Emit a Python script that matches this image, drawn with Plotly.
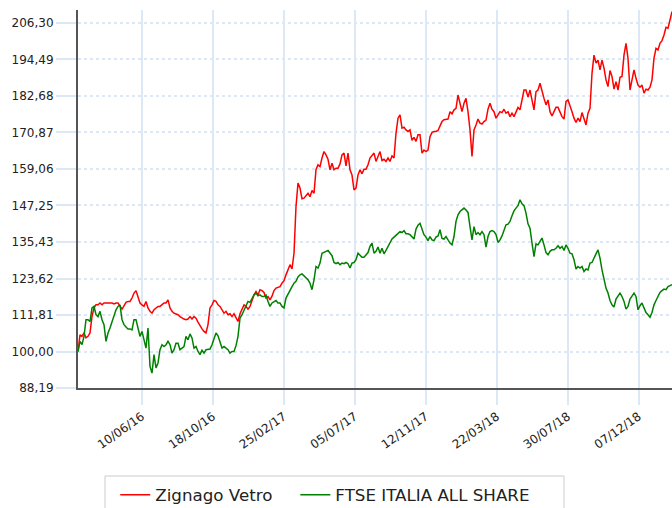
import pandas as pd
import plotly.graph_objects as go

# ---- data ----
start_date = "2016-02-14"
end_date = "2019-02-06"

zignago_vetro = [
    100.0, 105.4, 104.9, 106.0, 104.4, 104.9, 106.0, 111.3, 114.1, 115.1,
    115.1, 115.7, 115.1, 115.7, 115.7, 115.7, 115.9, 115.7, 115.4, 115.7,
    115.7, 114.8, 113.7, 114.8, 115.9, 116.2, 116.2, 117.3, 118.9, 119.7,
    117.3, 115.7, 115.1, 114.6, 116.2, 114.1, 113.0, 112.4, 113.5, 114.1,
    114.6, 114.6, 115.1, 115.7, 115.7, 116.7, 114.1, 113.0, 112.4, 112.2,
    111.9, 111.3, 110.8, 110.5, 110.3, 110.5, 111.3, 110.5, 111.3, 110.8,
    109.5, 108.3, 107.3, 106.5, 106.0, 108.7, 114.1, 115.1, 116.5, 116.2,
    115.1, 114.6, 113.5, 112.4, 113.0, 111.9, 112.2, 111.3, 112.2, 110.8,
    109.7, 112.2, 113.7, 115.1, 114.6, 113.7, 114.6, 116.7, 118.3, 119.4,
    118.3, 120.0, 119.7, 119.1, 117.3, 117.8, 116.7, 117.9, 119.7, 120.5,
    120.8, 121.0, 122.1, 122.9, 124.8, 126.2, 128.1, 126.7, 131.8, 146.9,
    154.5, 152.9, 149.4, 149.6, 150.4, 151.2, 150.1, 152.1, 151.2, 158.8,
    160.4, 159.8, 162.6, 164.7, 163.6, 162.2, 158.8, 160.9, 158.8, 159.3,
    159.3, 160.7, 163.6, 164.2, 160.1, 164.2, 158.8, 157.1, 152.3, 152.9,
    157.1, 158.8, 157.5, 159.0, 159.0, 160.4, 162.6, 163.6, 164.2, 161.5,
    163.3, 164.7, 161.8, 162.2, 161.5, 162.6, 161.5, 163.3, 162.6, 170.6,
    175.5, 176.6, 172.3, 172.6, 171.7, 171.2, 171.7, 168.3, 169.3, 168.0,
    170.1, 170.1, 164.2, 165.2, 164.7, 165.2, 169.5, 170.9, 171.2, 171.2,
    171.5, 172.8, 174.4, 175.0, 175.2, 175.2, 177.6, 176.9, 178.2, 178.7,
    183.0, 179.8, 177.6, 180.3, 181.9, 177.6, 171.7, 163.1, 171.7, 173.3,
    175.2, 173.9, 173.6, 174.4, 174.9, 178.4, 180.3, 178.4, 177.6, 175.5,
    176.6, 177.6, 177.3, 178.4, 177.1, 177.6, 176.0, 177.1, 176.0, 177.3,
    179.0, 178.2, 180.9, 184.6, 184.6, 182.3, 184.6, 181.9, 178.2, 184.1,
    184.6, 186.8, 184.1, 181.9, 179.8, 181.4, 177.6, 176.2, 177.6, 179.0,
    179.0, 177.6, 176.0, 175.2, 180.9, 181.4, 179.8, 177.6, 175.5, 174.1,
    175.5, 174.4, 177.3, 175.5, 173.3, 177.1, 178.7, 190.0, 195.9, 193.3,
    194.3, 191.1, 194.3, 191.7, 187.9, 185.7, 190.9, 189.0, 184.9, 187.3,
    184.6, 188.7, 189.0, 195.9, 199.7, 194.9, 184.6, 187.9, 191.1, 188.4,
    186.2, 185.5, 186.2, 183.6, 184.9, 184.6, 185.5, 187.9, 194.9, 198.1,
    197.6, 199.7, 200.6, 202.4, 204.9, 204.6, 207.5, 210.0,
]

ftse_italia_all_share = [
    100.0, 103.3, 102.2, 104.9, 110.3, 110.3, 109.7, 114.1, 114.6, 111.9,
    111.3, 113.0, 110.3, 108.7, 103.3, 106.0, 107.6, 109.7, 111.3, 113.5,
    114.6, 115.1, 110.3, 108.7, 107.9, 107.3, 107.3, 107.0, 110.3, 110.3,
    107.6, 104.9, 106.5, 103.8, 101.1, 107.6, 95.2, 93.0, 99.0, 94.7,
    96.3, 100.6, 102.2, 101.6, 102.2, 103.3, 102.2, 99.5, 100.6, 102.7,
    102.7, 100.6, 101.1, 101.6, 104.9, 103.8, 105.7, 104.4, 101.1, 101.6,
    100.0, 99.0, 100.4, 99.5, 100.6, 100.6, 100.8, 102.2, 104.4, 106.0,
    105.1, 103.3, 101.1, 101.6, 101.1, 100.6, 99.5, 100.0, 100.0, 101.9,
    104.9, 110.8, 111.9, 113.5, 114.6, 116.2, 115.9, 117.3, 118.3, 118.9,
    118.0, 118.3, 117.8, 117.8, 118.3, 116.2, 114.6, 115.7, 116.2, 116.5,
    115.7, 115.7, 114.6, 114.1, 117.3, 118.7, 120.0, 121.0, 122.1, 122.7,
    124.1, 124.8, 125.1, 124.5, 124.1, 123.2, 122.1, 120.0, 123.2, 127.5,
    127.0, 128.6, 131.8, 132.2, 132.4, 132.7, 131.8, 131.0, 128.8, 128.4,
    128.8, 128.1, 128.6, 128.4, 128.8, 128.4, 127.0, 128.6, 128.8, 129.7,
    131.8, 131.3, 130.5, 130.5, 131.3, 132.0, 134.0, 135.1, 131.8, 132.4,
    133.8, 131.8, 133.4, 131.6, 132.7, 133.8, 135.1, 136.4, 137.0, 137.5,
    138.1, 138.8, 138.5, 139.1, 138.1, 138.1, 137.8, 137.2, 136.4, 139.6,
    140.9, 141.5, 139.9, 137.8, 137.0, 135.9, 137.2, 136.1, 135.9, 137.0,
    137.4, 139.4, 136.6, 136.4, 137.2, 135.9, 135.1, 134.5, 137.2, 142.1,
    144.2, 145.3, 145.8, 146.4, 145.8, 145.0, 140.4, 136.1, 140.4, 137.8,
    138.5, 137.8, 138.8, 137.8, 133.8, 137.2, 138.8, 139.1, 138.8, 137.8,
    135.3, 136.1, 137.4, 139.1, 141.0, 141.2, 142.1, 143.9, 145.5, 146.4,
    147.2, 149.1, 147.8, 147.2, 144.8, 141.3, 139.9, 135.1, 130.7, 134.8,
    134.5, 135.6, 136.7, 134.5, 132.0, 131.3, 132.4, 132.9, 132.9, 133.4,
    134.2, 133.4, 134.0, 132.7, 134.5, 133.4, 131.8, 131.6, 129.7, 126.7,
    127.5, 127.0, 127.5, 125.9, 126.7, 126.4, 128.6, 128.8, 130.5, 131.6,
    132.9, 130.2, 126.4, 123.0, 120.5, 118.9, 116.5, 115.1, 114.4, 117.0,
    117.8, 118.9, 117.8, 116.2, 113.7, 114.6, 117.0, 118.0, 118.9, 117.8,
    113.5, 114.8, 115.7, 114.1, 112.6, 111.9, 111.1, 112.6, 115.1, 116.5,
    117.8, 119.1, 119.7, 120.2, 120.0, 121.0, 121.3, 121.6,
]

series_names = ["Zignago Vetro", "FTSE ITALIA ALL SHARE"]

y_tick_values = [88.19, 100.00, 111.81, 123.62, 135.43, 147.25,
                 159.06, 170.87, 182.68, 194.49, 206.30]
y_tick_labels = ["88,19", "100,00", "111,81", "123,62", "135,43", "147,25",
                 "159,06", "170,87", "182,68", "194,49", "206,30"]

x_tick_dates = ["2016-06-10", "2016-10-18", "2017-02-25", "2017-07-05",
                "2017-11-12", "2018-03-22", "2018-07-30", "2018-12-07"]
x_tick_labels = ["10/06/16", "18/10/16", "25/02/17", "05/07/17",
                 "12/11/17", "22/03/18", "30/07/18", "07/12/18"]

y_top = 210.5

assert len(zignago_vetro) == len(ftse_italia_all_share)
dates = pd.date_range(start_date, end_date, periods=len(zignago_vetro))

# ---- figure ----
W, H = 672, 508
FONT = "DejaVu Sans, Verdana, sans-serif"
GRID = "#dce8f6"
TXT = "#222222"

fig = go.Figure()
fig.add_trace(go.Scatter(x=dates, y=zignago_vetro, mode="lines",
                         name=series_names[0], legend="legend",
                         line=dict(color="#ff0000", width=1.5)))
fig.add_trace(go.Scatter(x=dates, y=ftse_italia_all_share, mode="lines",
                         name=series_names[1], legend="legend2",
                         line=dict(color="#008000", width=1.5)))

legend_common = dict(
    orientation="h",
    xref="container", yref="container",
    xanchor="left", yanchor="middle",
    y=0.0256,
    bgcolor="rgba(0,0,0,0)", borderwidth=0,
    font=dict(family=FONT, size=16.7, color=TXT),
    itemwidth=30,
)

fig.update_layout(
    width=W, height=H,
    margin=dict(l=78, r=0, t=10, b=120, autoexpand=False),
    paper_bgcolor="white", plot_bgcolor="white",
    font=dict(family=FONT, size=12, color=TXT),
    showlegend=True,
    legend=dict(legend_common, x=0.1715),
    legend2=dict(legend_common, x=0.4395),
    shapes=[dict(
        type="rect", xref="paper", yref="paper",
        x0=0.0455, x1=0.8182, y0=-0.2328, y1=-0.36,
        line=dict(color="#cccccc", width=1), fillcolor="rgba(0,0,0,0)",
        layer="below",
    )],
    xaxis=dict(
        type="date",
        range=[start_date, end_date],
        automargin=False,
        tickvals=x_tick_dates, ticktext=x_tick_labels,
        tickangle=-35,
        showgrid=True, gridcolor=GRID, gridwidth=1.5,
        ticks="outside", ticklen=15, tickcolor=GRID, tickwidth=1.5,
        showline=True, linecolor="#555555", linewidth=2,
        zeroline=False,
        tickfont=dict(family=FONT, size=12, color=TXT),
    ),
    yaxis=dict(
        range=[y_tick_values[0], y_top],
        automargin=False,
        tickvals=y_tick_values, ticktext=y_tick_labels,
        showgrid=True, gridcolor=GRID, gridwidth=1.5, griddash="dot",
        ticks="outside", ticklen=20, tickcolor=GRID, tickwidth=1.5,
        showline=True, linecolor="#555555", linewidth=2,
        zeroline=False,
        tickfont=dict(family=FONT, size=12, color=TXT),
    ),
)

fig.write_html(
    "out.html",
    config={"displayModeBar": False},
    post_script="document.body.style.margin='0';document.body.style.overflow='hidden';",
)
